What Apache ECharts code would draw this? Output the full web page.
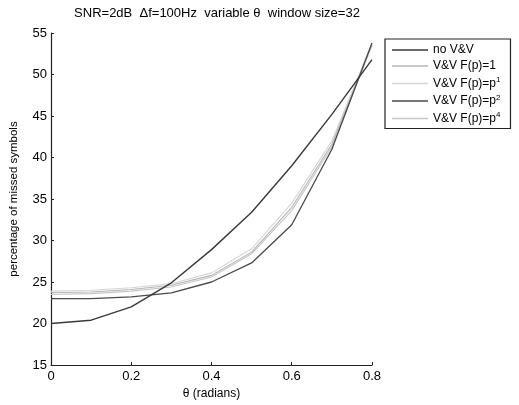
<!DOCTYPE html>
<html>
<head>
<meta charset="utf-8">
<script src="https://cdn.jsdelivr.net/npm/echarts@6/dist/echarts.min.js"></script>
<style>
  html, body { margin: 0; padding: 0; background: #fff; }
  #chart { width: 519px; height: 405px; }
</style>
</head>
<body>
<div id="chart"></div>
<script>
// theta values (radians)
let thetas = [0, 0.1, 0.2, 0.3, 0.4, 0.5, 0.6, 0.7, 0.8];

// percentage of missed symbols
let noVV  = [20.0, 20.4, 22.0, 24.9, 28.9, 33.4, 39.0, 45.2, 51.8];
let fp1   = [23.7, 23.8, 24.1, 24.6, 25.8, 28.6, 34.0, 41.6, 53.6];
let fpP1  = [23.9, 24.0, 24.3, 24.8, 26.1, 29.0, 34.5, 42.0, 53.8];
let fpP2  = [23.0, 23.0, 23.2, 23.7, 25.0, 27.3, 31.9, 41.0, 53.8];
let fpP4  = [23.5, 23.6, 23.9, 24.4, 25.6, 28.4, 33.6, 41.3, 53.5];

let xTicks = [0, 0.2, 0.4, 0.6, 0.8];
let yTicks = [15, 20, 25, 30, 35, 40, 45, 50, 55];

let font = 'Liberation Sans, Arial, sans-serif';

let mk = (name, data, color, width, z) => ({
    name: name,
    type: 'line',
    symbol: 'none',
    z: z,
    data: thetas.map((t, i) => [t, data[i]]),
    lineStyle: { color: color, width: width },
    itemStyle: { color: color }
});

let legendNames = {
    'no V&V': '{t|no V&V}',
    'V&V F(p)=1': '{t|V&V F(p)=1}',
    'V&V F(p)=p1': '{t|V&V F(p)=p}{s|1}',
    'V&V F(p)=p2': '{t|V&V F(p)=p}{s|2}',
    'V&V F(p)=p4': '{t|V&V F(p)=p}{s|4}'
};

let option = {
    animation: false,
    backgroundColor: '#fff',
    title: {
        text: 'SNR=2dB  \u0394f=100Hz  variable \u03b8  window size=32',
        left: 212,
        textAlign: 'center',
        top: 2,
        textStyle: { fontFamily: font, fontSize: 13, fontWeight: 'normal', color: '#000' }
    },
    grid: { left: 50, right: 147, top: 33, bottom: 40 },
    legend: {
        orient: 'vertical',
        left: 385,
        top: 39,
        icon: 'rect',
        itemWidth: 36,
        itemHeight: 1.5,
        itemGap: 4,
        padding: [5, 10, 4, 7],
        borderColor: '#222',
        borderWidth: 1.2,
        data: ['no V&V', 'V&V F(p)=1', 'V&V F(p)=p1', 'V&V F(p)=p2', 'V&V F(p)=p4'],
        formatter: n => legendNames[n],
        textStyle: {
            rich: {
                t: { fontFamily: font, fontSize: 12, color: '#000', lineHeight: 14 },
                s: { fontFamily: font, fontSize: 8, color: '#000', verticalAlign: 'top', padding: [0, 0, 7, 0] }
            }
        }
    },
    xAxis: {
        type: 'value',
        min: 0,
        max: 0.8,
        interval: 0.2,
        name: '\u03b8 (radians)',
        nameLocation: 'middle',
        nameGap: 22,
        nameTextStyle: { fontFamily: font, fontSize: 12, color: '#000' },
        axisLine: { lineStyle: { color: '#222', width: 1.2 } },
        axisTick: { inside: true, length: 3, lineStyle: { color: '#222' } },
        axisLabel: { fontFamily: font, fontSize: 13, color: '#000', margin: 5,
            formatter: v => xTicks.includes(+v.toFixed(1)) ? String(+v.toFixed(1)) : '' },
        splitLine: { show: false }
    },
    yAxis: {
        type: 'value',
        min: 15,
        max: 55,
        interval: 5,
        name: 'percentage of missed symbols',
        nameLocation: 'middle',
        nameGap: 31,
        nameTextStyle: { fontFamily: font, fontSize: 11.5, color: '#000' },
        axisLine: { show: true, lineStyle: { color: '#222', width: 1.2 } },
        axisTick: { show: true, inside: true, length: 3, lineStyle: { color: '#222' } },
        axisLabel: { fontFamily: font, fontSize: 13, color: '#000', margin: 4,
            formatter: v => yTicks.includes(v) ? String(v) : '' },
        splitLine: { show: false }
    },
    series: [
        mk('no V&V', noVV, '#3a3a3a', 1.4, 5),
        mk('V&V F(p)=1', fp1, '#b4b4b4', 1.1, 3),
        mk('V&V F(p)=p1', fpP1, '#d6d6d6', 1.1, 2),
        mk('V&V F(p)=p2', fpP2, '#4a4a4a', 1.3, 4),
        mk('V&V F(p)=p4', fpP4, '#c6c6c6', 1.1, 2)
    ]
};

let chart = echarts.init(document.getElementById('chart'));
chart.setOption(option);
</script>
</body>
</html>
